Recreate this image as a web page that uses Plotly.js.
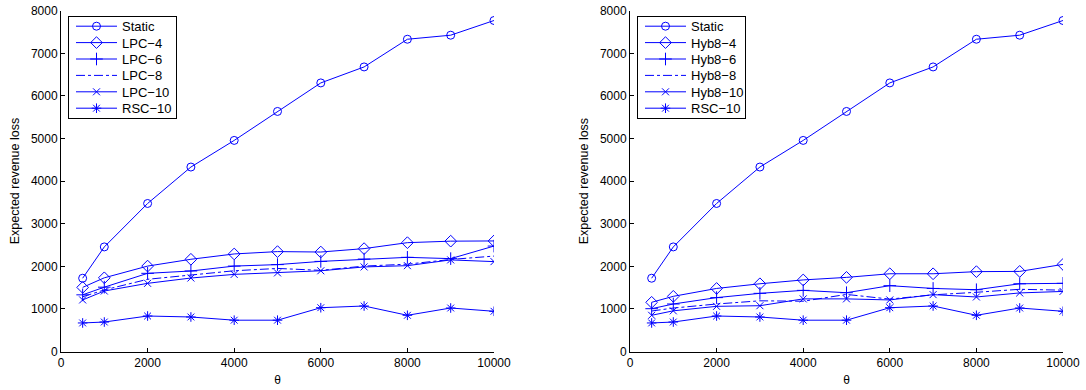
<!DOCTYPE html>
<html>
<head>
<meta charset="utf-8">
<script src="https://cdn.plot.ly/plotly-3.0.1.min.js"></script>
<style>html,body{margin:0;padding:0;background:#fff;}#chart{width:1086px;height:390px;}</style>
</head>
<body>
<div id="chart"></div>
<script>
const theta = [500, 1000, 2000, 3000, 4000, 5000, 6000, 7000, 8000, 9000, 10000];

const staticLoss = [1720, 2455, 3475, 4330, 4955, 5635, 6305, 6680, 7330, 7425, 7770];
const rsc10 = [670, 692, 833, 810, 735, 735, 1028, 1068, 850, 1021, 944];

const lpc4 = [1505, 1730, 2005, 2165, 2290, 2345, 2335, 2415, 2555, 2590, 2595];
const lpc6 = [1330, 1510, 1835, 1890, 2005, 2040, 2115, 2170, 2210, 2180, 2475];
const lpc8 = [1285, 1445, 1695, 1795, 1895, 1950, 1905, 2005, 2050, 2160, 2240];
const lpc10 = [1210, 1420, 1600, 1725, 1810, 1845, 1895, 1985, 2015, 2150, 2110];

const hyb4 = [1155, 1295, 1480, 1590, 1680, 1740, 1825, 1825, 1875, 1880, 2045];
const hyb6 = [1005, 1115, 1265, 1365, 1435, 1380, 1545, 1480, 1450, 1590, 1600];
const hyb8 = [950, 1020, 1115, 1190, 1180, 1340, 1230, 1330, 1390, 1460, 1440];
const hyb10 = [850, 955, 1060, 1075, 1235, 1235, 1210, 1335, 1280, 1375, 1410];

const leftNames = ['Static', 'LPC\u22124', 'LPC\u22126', 'LPC\u22128', 'LPC\u221210', 'RSC\u221210'];
const rightNames = ['Static', 'Hyb8\u22124', 'Hyb8\u22126', 'Hyb8\u22128', 'Hyb8\u221210', 'RSC\u221210'];

const xTicks = [0, 2000, 4000, 6000, 8000, 10000];
const xTickText = ['0', '2000', '4000', '6000', '8000', '10000'];
const yTicks = [0, 1000, 2000, 3000, 4000, 5000, 6000, 7000, 8000];
const yTickText = ['0', '1000', '2000', '3000', '4000', '5000', '6000', '7000', '8000'];

const BLUE = '#0000ff';
const styles = [
  {symbol: 'circle-open', size: 8, dash: 'solid', mode: 'lines+markers'},
  {symbol: 'diamond-open', size: 9, dash: 'solid', mode: 'lines+markers'},
  {symbol: 'cross-thin-open', size: 9, dash: 'solid', mode: 'lines+markers'},
  {symbol: 'circle-open', size: 0, dash: 'dashdot', mode: 'lines'},
  {symbol: 'x-thin-open', size: 7, dash: 'solid', mode: 'lines+markers'},
  {symbol: 'asterisk-open', size: 8, dash: 'solid', mode: 'lines+markers'}
];

function mk(y, name, st, xa, ya, lg) {
  const t = {
    x: theta, y: y, name: name, type: 'scatter', mode: st.mode,
    xaxis: xa, yaxis: ya, legend: lg,
    line: {color: BLUE, width: 1, dash: st.dash}
  };
  if (st.mode.indexOf('markers') >= 0) {
    t.marker = {symbol: st.symbol, size: st.size, color: BLUE, line: {color: BLUE, width: 1}};
  }
  return t;
}

const leftSeries = [staticLoss, lpc4, lpc6, lpc8, lpc10, rsc10];
const rightSeries = [staticLoss, hyb4, hyb6, hyb8, hyb10, rsc10];

const data = [];
leftSeries.forEach((s, i) => data.push(mk(s, leftNames[i], styles[i], 'x', 'y', 'legend')));
rightSeries.forEach((s, i) => data.push(mk(s, rightNames[i], styles[i], 'x2', 'y2', 'legend2')));

const FONT = 'Liberation Sans, Arial, Helvetica, sans-serif';

function xax(domain, anchor) {
  return {
    domain: domain, anchor: anchor, range: [0, 10000], tickvals: xTicks, ticktext: xTickText,
    ticks: 'inside', ticklen: 4, tickcolor: '#000', showline: true, linecolor: '#000', linewidth: 1,
    showgrid: false, zeroline: false, automargin: false,
    tickfont: {family: FONT, size: 12, color: '#000'},
    title: {text: '\u03b8', font: {family: FONT, size: 12, color: '#000'}, standoff: 6}
  };
}
function yax(anchor) {
  return {
    domain: [1 - 351.5 / 390, 1 - 10.7 / 390], anchor: anchor, range: [0, 8000], tickvals: yTicks, ticktext: yTickText,
    ticks: 'inside', ticklen: 4, tickcolor: '#000', showline: true, linecolor: '#000', linewidth: 1,
    showgrid: false, zeroline: false, automargin: false,
    tickfont: {family: FONT, size: 12, color: '#000'},
    title: {text: 'Expected revenue loss', font: {family: FONT, size: 12.5, color: '#000'}, standoff: 8}
  };
}

const legendBase = {
  yanchor: 'top', xanchor: 'left', bgcolor: '#fff', bordercolor: '#000', borderwidth: 1,
  font: {family: FONT, size: 13, color: '#000'}, tracegroupgap: 0, itemwidth: 30
};

const layout = {
  width: 1086, height: 390,
  margin: {l: 0, r: 0, t: 0, b: 0},
  paper_bgcolor: '#fff', plot_bgcolor: '#fff',
  showlegend: true,
  xaxis: xax([61 / 1086, 494 / 1086], 'y'),
  yaxis: yax('x'),
  xaxis2: xax([630 / 1086, 1063 / 1086], 'y2'),
  yaxis2: yax('x2'),
  legend: Object.assign({}, legendBase, {x: 68 / 1086, y: 1 - 15.7 / 390}),
  legend2: Object.assign({}, legendBase, {x: 637 / 1086, y: 1 - 15.7 / 390})
};

// Compact the legends to MATLAB-like spacing (cosmetic only).
function tidyLegends(gd) {
  gd.querySelectorAll('g.legend, g.legend2').forEach(leg => {
    leg.removeAttribute('clip-path');
    leg.querySelectorAll('[clip-path]').forEach(el => el.removeAttribute('clip-path'));
    leg.querySelectorAll('g.traces').forEach((it, i) => {
      it.setAttribute('transform', 'translate(1,' + (10.5 + i * 16.4) + ')');
      it.querySelectorAll('.legendlines path').forEach(p => p.setAttribute('d', 'M7,0h41'));
      it.querySelectorAll('.legendsymbols path').forEach(p => p.setAttribute('transform', 'translate(27.5,0)'));
      it.querySelectorAll('text').forEach(t => {
        t.setAttribute('x', 53);
        t.querySelectorAll('tspan').forEach(s => { if (s.hasAttribute('x')) s.setAttribute('x', 53); });
      });
    });
    leg.querySelectorAll('rect.bg').forEach(bg => {
      bg.setAttribute('height', 102.5);
      bg.setAttribute('width', 108);
    });
  });
}

Plotly.newPlot('chart', data, layout, {displayModeBar: false, staticPlot: true}).then(gd => {
  tidyLegends(gd);
  setTimeout(() => tidyLegends(gd), 30);
  setTimeout(() => tidyLegends(gd), 200);
});
</script>
</body>
</html>
